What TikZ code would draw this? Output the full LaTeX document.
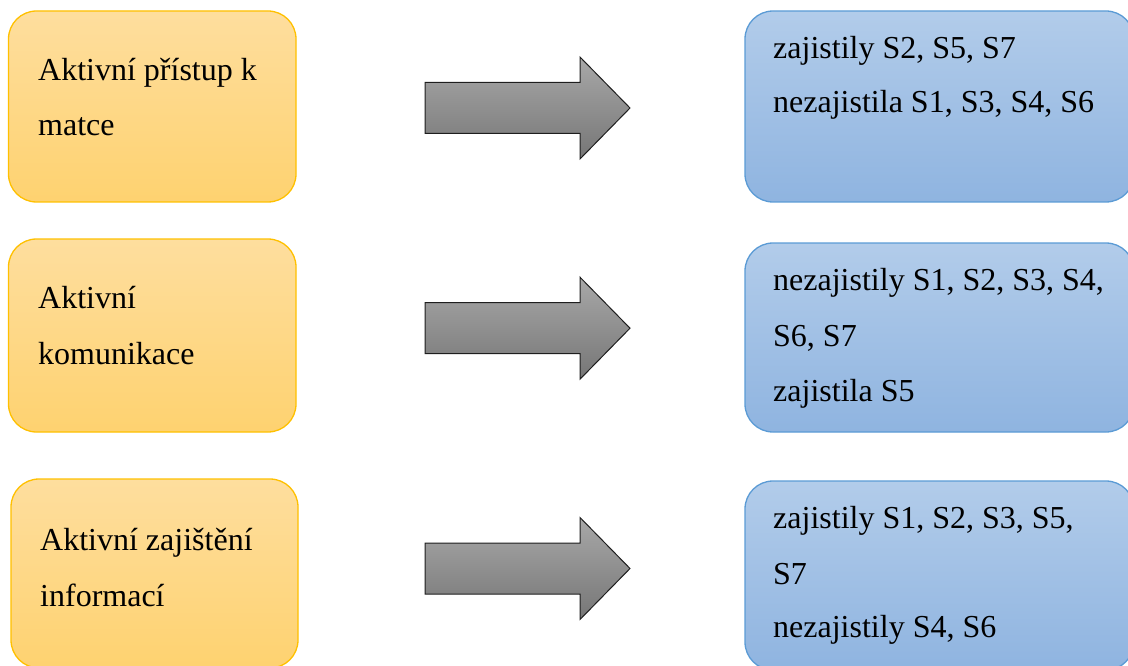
\documentclass[tikz,border=0pt]{standalone}
\usepackage{fontspec}
\setmainfont{Liberation Serif}
\begin{document}
\begin{tikzpicture}[x=1pt,y=-1pt,
  box/.style={rounded corners=28pt, line width=1.3pt, inner sep=0pt, anchor=center},
  leftbox/.style={box, draw={rgb,255:red,255;green,192;blue,0},
    top color={rgb,255:red,254;green,222;blue,158},
    bottom color={rgb,255:red,254;green,210;blue,112}},
  rightbox/.style={box, draw={rgb,255:red,91;green,155;blue,213},
    top color={rgb,255:red,178;green,204;blue,234},
    bottom color={rgb,255:red,143;green,180;blue,224}},
  bigarrow/.style={draw={rgb,255:red,30;green,30;blue,30}, line width=1pt, line join=miter,
    top color={rgb,255:red,168;green,168;blue,168},
    bottom color={rgb,255:red,118;green,118;blue,118}},
  txt/.style={anchor=base west, inner sep=0pt, font=\fontsize{32}{38}\selectfont}]
\useasboundingbox (0,0) rectangle (1128,666);
\clip (0,0) rectangle (1128,666);

% left column
\node[leftbox, minimum width=287.5pt, minimum height=191pt] (L1) at (152.25,106.5) {};
\node[leftbox, minimum width=287.5pt, minimum height=193pt] (L2) at (152.25,335.5) {};
\node[leftbox, minimum width=287pt, minimum height=189pt] (L3) at (154.5,573.5) {};

% right column
\node[rightbox, minimum width=389pt, minimum height=191pt] (R1) at (939.5,106.5) {};
\node[rightbox, minimum width=389pt, minimum height=189pt] (R2) at (939.5,337.5) {};
\node[rightbox, minimum width=389pt, minimum height=189pt] (R3) at (939.5,575.5) {};

% block arrows, each given by the point of its tail centre
\foreach \n/\y in {A1/108, A2/328.2, A3/568.5}{
  \coordinate (\n) at (425,\y);
  \path[bigarrow] (\n) ++(0,-25.5) -- ++(155,0) -- ++(0,-25.5) -- ++(50,51)
     -- ++(-50,51) -- ++(0,-25.5) -- ++(-155,0) -- cycle;
}

% texts
\node[txt] (t1a) at (38,81) {Aktivní přístup k};
\node[txt] (t1b) at (38,136) {matce};
\node[txt] (t2a) at (38,308) {Aktivní};
\node[txt] (t2b) at (38,364) {komunikace};
\node[txt] (t3a) at (40,550) {Aktivní zajištění};
\node[txt] (t3b) at (40,606) {informací};

\node[txt] (r1a) at (773,59) {zajistily S2, S5, S7};
\node[txt] (r1b) at (773,113) {nezajistila S1, S3, S4, S6};
\node[txt] (r2a) at (773,290) {nezajistily S1, S2, S3, S4,};
\node[txt] (r2b) at (773,346) {S6, S7};
\node[txt] (r2c) at (773,401) {zajistila S5};
\node[txt] (r3a) at (773,528) {zajistily S1, S2, S3, S5,};
\node[txt] (r3b) at (773,584) {S7};
\node[txt] (r3c) at (773,637) {nezajistily S4, S6};
\end{tikzpicture}
\end{document}
